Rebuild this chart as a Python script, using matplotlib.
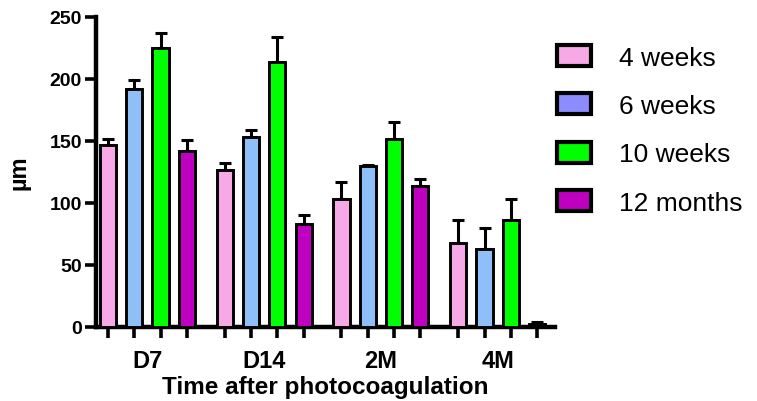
import matplotlib
matplotlib.use("Agg")
import matplotlib.pyplot as plt
import numpy as np
from matplotlib.patches import Patch

plt.rcParams['font.family'] = ['Liberation Sans', 'DejaVu Sans']

groups = ["D7", "D14", "2M", "4M"]
series = ["4 weeks", "6 weeks", "10 weeks", "12 months"]
values = {
    "4 weeks":   [147, 127, 103, 68],
    "6 weeks":   [192, 153, 130, 63],
    "10 weeks":  [225, 214, 152, 86],
    "12 months": [142, 83, 114, 2.5],
}
errors = {
    "4 weeks":   [4.5, 5.5, 14, 18],
    "6 weeks":   [7.5, 6, 1, 17],
    "10 weeks":  [12, 20, 13, 17.5],
    "12 months": [9, 7.5, 5, 1.5],
}
bar_colors = ["#F7A8E6", "#8FBFF9", "#00FF00", "#C000C0"]
legend_colors = ["#F7A8E6", "#8C8CFF", "#00FF00", "#C000C0"]
yticks = [0, 50, 100, 150, 200, 250]

W, H = 757, 402
fig = plt.figure(figsize=(W/100, H/100), dpi=100)
ax = fig.add_axes([96/W, (H-328)/H, (555-96)/W, 310/H])

group_step = 4.44
bw = 0.615
positions = []
for si, s in enumerate(series):
    x = np.arange(len(groups)) * group_step + si
    positions.extend(x)
    ax.bar(x, values[s], width=bw, color=bar_colors[si], edgecolor='black',
           linewidth=2.1, zorder=3)
    ax.errorbar(x, values[s], yerr=[np.zeros(len(groups)), errors[s]], fmt='none',
                ecolor='black', elinewidth=2.2, capsize=4.3, capthick=2.2, zorder=2)

ax.set_xlim(-0.456, 17.0)
ax.set_ylim(0, 250)
ax.set_yticks(yticks)
ax.set_yticklabels([str(t) for t in yticks], fontsize=14, fontweight='bold')
ax.set_xticks(sorted(positions))
ax.set_xticklabels([])
ax.tick_params(axis='x', length=8, width=2.6, direction='out')
ax.tick_params(axis='y', length=8, width=2.6, direction='out', pad=2)

for sp in ['top', 'right']:
    ax.spines[sp].set_visible(False)
for sp in ['left', 'bottom']:
    ax.spines[sp].set_linewidth(3.2)

centers = np.arange(len(groups)) * group_step + 1.5
for c, g in zip(centers, groups):
    ax.text(c, -27, g, ha='center', va='center', fontsize=17, fontweight='bold',
            transform=ax.transData, clip_on=False)

ax.set_xlabel("Time after photocoagulation", fontsize=17.5, fontweight='bold', labelpad=23)
ax.set_ylabel("µm", fontsize=17, fontweight='bold', labelpad=14)

handles = [Patch(facecolor=c, edgecolor='black', linewidth=3) for c in legend_colors]
ax.legend(handles, series, loc='upper left', bbox_to_anchor=(557/W, 1-46/H),
          bbox_transform=fig.transFigure, frameon=False, fontsize=19,
          handlelength=1.3, handleheight=0.85, handletextpad=1.05,
          labelspacing=0.9, borderpad=0, borderaxespad=0)

fig.savefig("out.png", dpi=100)
